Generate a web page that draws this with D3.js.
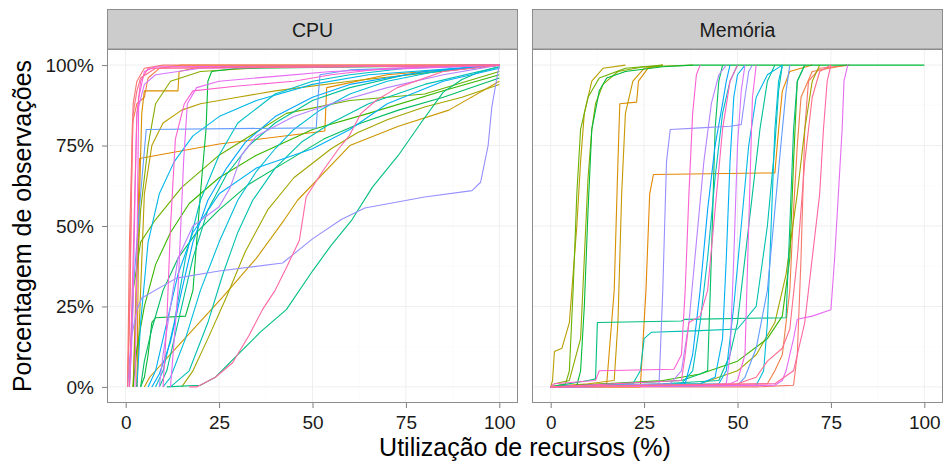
<!DOCTYPE html>
<html>
<head>
<meta charset="utf-8">
<script src="https://cdn.jsdelivr.net/npm/d3@7"></script>
<style>
  body { margin: 0; background: #fff; }
  text { font-family: "Liberation Sans", Arial, sans-serif; }
</style>
</head>
<body>
<svg id="chart" width="944" height="464"></svg>
<script>
// facet labels and tick labels
var panels = ["CPU", "Memória"];
var xTicks = [0, 25, 50, 75, 100];
var yTicks = [0, 25, 50, 75, 100];

// ECDF curves per machine, [utilizacao %, % observacoes], same order in both panels
var cpuCurves = [
  [[0.5,0],[1,45],[2,88],[3,95],[5,99],[10,100],[100,100]],
  [[0.5,0],[1.2,30],[1.8,82],[3,88],[5,90],[6,96],[9,99],[15,100],[100,100]],
  [[2,0],[3,40],[3.7,71],[25,75.5],[53.3,79.5],[53.8,93],[70,97],[100,100]],
  [[3,0],[3.5,50],[4.3,85],[5,92],[14,92],[14.3,98],[20,99.5],[100,100]],
  [[5,0],[6.4,3],[15,14],[26,28],[35,40],[42.5,52],[46,58],[60,75],[73,81],[86.5,86],[100,95]],
  [[3,0],[4,30],[5,60],[7,75],[10,82],[15,86],[20,88],[30,90],[40,92],[60,95],[100,100]],
  [[15,0],[18,5],[22,15],[27,28],[32,42],[38,55],[45,65],[55,74],[62,79],[70,83],[80,87],[90,90],[100,94]],
  [[2,0],[2.5,15],[3,35],[4,55],[6,75],[8,88],[12,95],[20,98],[40,99.5],[100,100]],
  [[1,0],[2,30],[4,45],[8,52],[15,62],[25,72],[43,85],[60,89],[80,91],[100,98]],
  [[2,0],[3,12],[5,25],[8,38],[12,48],[17,57],[25,65],[35,72],[50,80],[65,85],[85,92],[100,97]],
  [[4,0],[5,3],[6,10],[7,20],[8,21.5],[16,22],[18,30],[19,45],[20,60],[21.5,80],[22,95],[23,98],[30,99],[100,100]],
  [[4,0],[5,8],[7,18],[10,30],[14,40],[19,48],[25,55],[33,63],[43,70],[53,77],[63,82],[73,86],[85,90],[100,96]],
  [[11,0],[20,0.5],[24,3],[30,10],[36,17],[43,24],[50,36],[55,44],[60.6,52],[66,62],[73,72],[79,82],[85,91.6],[90,95.5],[94.5,97.8],[100,99.5]],
  [[9,0],[11,5],[14,20],[18,40],[22,55],[27,66],[33,75],[40,82],[50,89],[60,93],[75,97],[100,100]],
  [[12,0],[17,5],[22,20],[26,35],[30,48],[34,58],[40,68],[47,76],[55,82],[65,88],[80,94],[100,99.5]],
  [[8,0],[10,5],[13,20],[16,40],[20,58],[25,72],[30,82],[40,91],[50,95],[60,97],[75,99],[100,100]],
  [[10,0],[12,3],[16,15],[20,30],[25,45],[30,58],[35,67],[40,74],[45,80],[52,86],[60,91],[70,95],[85,98.5],[100,100]],
  [[3,0],[4,20],[6,45],[9,60],[13,70],[18,78],[25,84],[35,89],[50,94],[65,97],[100,100]],
  [[6,0],[8,5],[10,15],[14,35],[18,48],[25,60],[35,68],[50,74],[60,80],[70,88],[85,95],[100,99]],
  [[7,0],[9,4],[12,14],[15,30],[18,45],[22,58],[27,68],[32,76],[40,84],[50,90],[60,94],[80,98],[100,100]],
  [[1,0],[2,30],[4,60],[5.5,80],[51,80.5],[51.5,90],[52,97],[60,98.5],[100,100]],
  [[0.5,0],[1.5,15],[3,24],[4.3,27.6],[13.6,33.8],[25,36],[42,38.5],[50,46],[57.7,52],[64,55.6],[80,59],[92.7,61],[95,63.6],[97,75],[98,87],[99.5,97],[100,100]],
  [[9,0],[10,10],[12,25],[14,40],[18,50],[25,56],[28,62],[31,72],[35,78],[45,84],[55,88],[70,93],[85,97],[100,100]],
  [[1,0],[1.5,10],[2,25],[2.5,60],[3,85],[5,94],[8,97],[20,99],[100,100]],
  [[12,0],[14,30],[15.5,70],[16.5,88],[19,93],[25,95],[40,96.5],[55,98],[100,100]],
  [[2.5,0],[3,40],[3.5,90],[5,98],[8,99.5],[100,100]],
  [[10,0],[11,20],[12,50],[13.3,77],[15.7,88],[18,92],[30,93.5],[45,95],[55,97],[70,99],[100,100]],
  [[1,0],[2,40],[3,85],[4,95],[6,99],[100,100]],
  [[17,0],[19,0],[24,3],[28.6,7.5],[33,16],[36.6,24],[40,30],[43,37],[46.5,45.6],[48.3,59],[52.7,67],[57,74],[59.8,78],[63,85],[67,89],[72.7,93],[85,98],[100,100]],
  [[0.5,0],[1,20],[1.5,60],[2,85],[3,92],[4,96],[8,99],[100,100]]
];

var memCurves = [
  [[0,0],[55,0],[65,0.5],[66,10],[67,40],[68,80],[69,95],[72,99],[80,100]],
  [[0,0],[30,0.5],[58,1],[60,5],[62,10],[64,30],[65,55],[66,75],[67,90],[70,98],[79,100]],
  [[0,0],[24,0],[25.5,30],[26.5,60],[27.5,66],[60,66.5],[61,80],[62,92],[64,98],[70,100]],
  [[0,0],[5,0.5],[15,1],[17,30],[18,70],[18.5,88],[23,88.5],[23.5,95],[26,99],[30,100]],
  [[0,0],[10,1],[17,2],[18,20],[19,60],[20,85],[22,95],[25,99],[30,100]],
  [[0,0],[0.5,2],[1,11],[3,12],[5,20],[7,50],[8,70],[9,85],[11,95],[14,99],[20,100]],
  [[0,0],[40,1],[50,5],[55,10],[60,20],[63,35],[66,60],[68,80],[70,95],[72,100]],
  [[0,0],[1,1],[5,2],[8,15],[9,40],[10,65],[11,80],[12,88],[14,94],[18,98],[25,99.5],[38,100]],
  [[0,0],[4,1],[5,5],[6,30],[7,60],[8,80],[10,90],[13,96],[20,99],[30,100]],
  [[0,0],[30,2],[40,4],[50,8],[58,15],[62,22],[64,40],[65,70],[66,95],[68,100]],
  [[0,0],[7,0.5],[8,5],[9,25],[10,55],[11,80],[13,92],[15,96],[20,98],[30,99.5],[38,100],[100,100]],
  [[0,0],[35,2],[40,4],[42,5],[43,40],[44,80],[45,95],[46,100]],
  [[0,0],[10,2],[12,2.5],[12.5,20],[35,20.5],[36,21],[63,21.5],[64,50],[65,80],[66,95],[68,100]],
  [[0,0],[30,1],[45,2],[48,10],[50,20],[52,40],[54,60],[56,80],[58,95],[60,100]],
  [[0,0],[22,1],[24,5],[25,15],[27,17],[40,17.5],[50,18],[55,25],[58,50],[60,75],[61,92],[62,100]],
  [[0,0],[35,1],[38,5],[40,20],[42,40],[44,65],[46,85],[48,95],[50,100]],
  [[0,0],[55,0.5],[57,5],[58,20],[59,50],[60,80],[61,95],[62,100]],
  [[0,0],[45,1],[47,5],[49,25],[51,50],[53,75],[55,90],[58,97],[62,100]],
  [[0,0],[40,1],[44,3],[46,15],[47,40],[48,70],[49,90],[50,97],[52,100]],
  [[0,0],[30,0.5],[36,1],[38,10],[40,30],[42,55],[44,75],[46,88],[47,95],[48,100]],
  [[0,0],[50,0.5],[52,3],[55,12],[58,30],[60,55],[62,80],[63,92],[64,100]],
  [[0,0],[29,0.5],[30,30],[31,70],[32,80],[40,80.5],[48,81],[51,81.5],[52,90],[53,98],[54,100]],
  [[0,0],[32,1],[35,5],[37,20],[39,45],[41,70],[43,88],[45,97],[47,100]],
  [[0,0],[40,0.5],[47,1],[48,10],[49,40],[50,75],[51,92],[52,100]],
  [[0,0],[60,0.5],[62,2],[63,5],[64,10],[65,15],[66,21],[70,22],[75,24],[76,40],[77,60],[78,80],[78.5,95],[79.5,100]],
  [[0,0],[45,0.5],[48,1],[50,2],[52,10],[53,50],[54,90],[55,100]],
  [[0,0],[1,1],[12,2],[13,5],[33,5.5],[35,10],[36,30],[37,60],[38,85],[39,97],[40,100]],
  [[0,0],[35,2],[36,10],[37,20],[40,22],[42,30],[44,55],[46,80],[48,95],[50,100]],
  [[0,0],[60,1],[65,5],[68,20],[70,40],[72,60],[73,80],[74,95],[75,100]],
  [[0,0],[50,1],[55,3],[58,8],[62,12],[64,18],[66,40],[68,70],[70,90],[72,98],[75,100]]
];

// polarLUV -> sRGB, like R's hcl() used by ggplot's hue palette
function hclLuv(h, c, l) {
    var Xn = 95.047, Yn = 100, Zn = 108.883;
    var den = Xn + 15 * Yn + 3 * Zn;
    var un = 4 * Xn / den, vn = 9 * Yn / den;
    var hr = h * Math.PI / 180;
    var u = c * Math.cos(hr), v = c * Math.sin(hr);
    var Y = Yn * Math.pow((l + 16) / 116, 3);
    var up = u / (13 * l) + un, vp = v / (13 * l) + vn;
    var X = Y * 9 * up / (4 * vp);
    var Z = Y * (12 - 3 * up - 20 * vp) / (4 * vp);
    X /= 100; Y /= 100; Z /= 100;
    var r = 3.240479 * X - 1.537150 * Y - 0.498535 * Z;
    var g = -0.969256 * X + 1.875992 * Y + 0.041556 * Z;
    var b = 0.055648 * X - 0.204043 * Y + 1.057311 * Z;
    function gam(t) {
        t = t <= 0.0031308 ? 12.92 * t : 1.055 * Math.pow(t, 1 / 2.4) - 0.055;
        return Math.round(Math.max(0, Math.min(1, t)) * 255);
    }
    return d3.rgb(gam(r), gam(g), gam(b)).formatHex();
}

(function(){
    var svg = d3.select("#chart");
    var n = cpuCurves.length;
    var colour = function(i){ return hclLuv(15 + 360 * i / n, 100, 65); };

    var pTop = 49, pBottom = 403, stripTop = 9;
    var panelX = [107, 532], panelW = 411;

    var y = d3.scaleLinear().domain([-5, 105]).range([pBottom, pTop]);

    [cpuCurves, memCurves].forEach(function(curves, p){
        var x0 = panelX[p];
        var x = d3.scaleLinear().domain([-5, 105]).range([x0, x0 + panelW]);
        var g = svg.append("g");

        g.append("rect").attr("x", x0).attr("y", pTop).attr("width", panelW).attr("height", pBottom - pTop)
          .attr("fill", "#fff");

        // minor grid
        [12.5, 37.5, 62.5, 87.5].forEach(function(v){
            g.append("line").attr("x1", x(v)).attr("x2", x(v)).attr("y1", pTop).attr("y2", pBottom)
              .attr("stroke", "#f8f8f8").attr("stroke-width", 0.6);
            g.append("line").attr("x1", x0).attr("x2", x0 + panelW).attr("y1", y(v)).attr("y2", y(v))
              .attr("stroke", "#f8f8f8").attr("stroke-width", 0.6);
        });
        // major grid
        xTicks.forEach(function(v){
            g.append("line").attr("x1", x(v)).attr("x2", x(v)).attr("y1", pTop).attr("y2", pBottom)
              .attr("stroke", "#efefef").attr("stroke-width", 1);
        });
        yTicks.forEach(function(v){
            g.append("line").attr("x1", x0).attr("x2", x0 + panelW).attr("y1", y(v)).attr("y2", y(v))
              .attr("stroke", "#efefef").attr("stroke-width", 1);
        });

        var line = d3.line().x(function(d){ return x(d[0]); }).y(function(d){ return y(d[1]); });
        g.selectAll("path.ecdf").data(curves).enter().append("path")
          .attr("class", "ecdf")
          .attr("d", line)
          .attr("fill", "none")
          .attr("stroke", function(d, i){ return colour(i); })
          .attr("stroke-width", 1.1)
          .attr("stroke-linejoin", "round");

        g.append("rect").attr("x", x0 + 0.5).attr("y", pTop + 0.5).attr("width", panelW - 1).attr("height", pBottom - pTop - 1)
          .attr("fill", "none").attr("stroke", "#8c8c8c").attr("stroke-width", 1);

        // strip
        g.append("rect").attr("x", x0 + 0.5).attr("y", stripTop + 0.5).attr("width", panelW - 1).attr("height", pTop - stripTop - 0.5)
          .attr("fill", "#cccccc").attr("stroke", "#8c8c8c").attr("stroke-width", 1);
        g.append("text").attr("x", x0 + panelW / 2).attr("y", 37).attr("text-anchor", "middle")
          .attr("font-size", 19.5).attr("fill", "#1a1a1a").text(panels[p]);

        // x axis
        var xa = svg.append("g").attr("transform", "translate(0," + pBottom + ")")
          .call(d3.axisBottom(x).tickValues(xTicks).tickSize(5).tickPadding(8));
        xa.select(".domain").remove();
        xa.selectAll(".tick line").attr("stroke", "#7f7f7f");
        xa.selectAll("text").attr("font-size", 19).attr("fill", "#1a1a1a")
          .style("font-family", "Liberation Sans, Arial, sans-serif");
    });

    // y axis
    var ya = svg.append("g").attr("transform", "translate(" + panelX[0] + ",0)")
      .call(d3.axisLeft(y).tickValues(yTicks).tickSize(5).tickPadding(8)
        .tickFormat(function(d){ return d + "%"; }));
    ya.select(".domain").remove();
    ya.selectAll(".tick line").attr("stroke", "#7f7f7f");
    ya.selectAll("text").attr("font-size", 19).attr("fill", "#1a1a1a")
      .style("font-family", "Liberation Sans, Arial, sans-serif");

    svg.append("text").attr("x", (panelX[0] + panelX[1] + panelW) / 2).attr("y", 456)
      .attr("text-anchor", "middle").attr("font-size", 25).attr("fill", "#000")
      .text("Utilização de recursos (%)");
    svg.append("text").attr("transform", "translate(31," + ((pTop + pBottom) / 2) + ") rotate(-90)")
      .attr("text-anchor", "middle").attr("font-size", 25).attr("fill", "#000")
      .text("Porcentagem de observações");
})();
</script>
</body>
</html>
